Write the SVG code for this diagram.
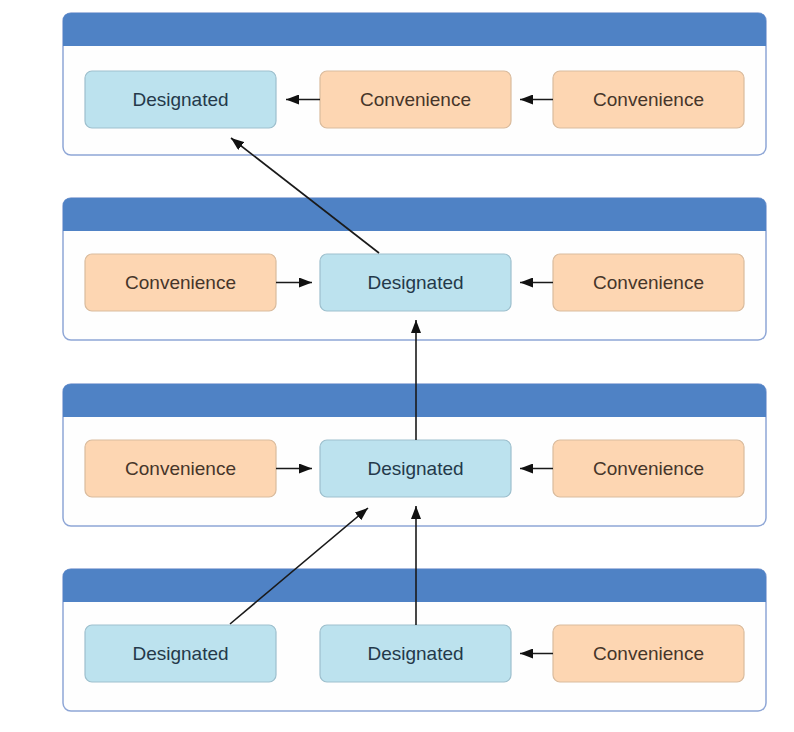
<svg xmlns="http://www.w3.org/2000/svg" width="794" height="732" viewBox="0 0 794 732">
<style>
.panel{fill:#fefefe;stroke:#8ea6d6;stroke-width:1.5}
.hdr{fill:#4f82c5}
.des rect{fill:#bce2ee;stroke:#9dbfcd;stroke-width:1.2}
.con rect{fill:#fdd6b2;stroke:#d9bb9d;stroke-width:1.2}
text{font-family:"Liberation Sans",Arial,sans-serif;font-size:19px;text-anchor:middle;dominant-baseline:central}
.des text{fill:#24394a}
.con text{fill:#46352a}
.conn line{stroke:#1a1a1a;stroke-width:1.6;marker-end:url(#ah)}
</style>
<defs>
<marker id="ah" markerWidth="13" markerHeight="10" refX="13" refY="5" orient="auto" markerUnits="userSpaceOnUse">
<path d="M0,0 L13,5 L0,10 Z" fill="#111"/>
</marker>
</defs>
<rect width="794" height="732" fill="#ffffff"/>
<g id="panel1">
<rect class="panel" x="63" y="13" width="703" height="142" rx="8"/>
<path class="hdr" d="M71,13 H758 Q766,13 766,21 V46 H63 V21 Q63,13 71,13 Z"/>
</g>
<g id="panel2">
<rect class="panel" x="63" y="198" width="703" height="142" rx="8"/>
<path class="hdr" d="M71,198 H758 Q766,198 766,206 V231 H63 V206 Q63,198 71,198 Z"/>
</g>
<g id="panel3">
<rect class="panel" x="63" y="384" width="703" height="142" rx="8"/>
<path class="hdr" d="M71,384 H758 Q766,384 766,392 V417 H63 V392 Q63,384 71,384 Z"/>
</g>
<g id="panel4">
<rect class="panel" x="63" y="569" width="703" height="142" rx="8"/>
<path class="hdr" d="M71,569 H758 Q766,569 766,577 V602 H63 V577 Q63,569 71,569 Z"/>
</g>
<g id="n1a" class="des"><rect x="85" y="71" width="191" height="57" rx="7"/><text x="180.5" y="99.5">Designated</text></g>
<g id="n1b" class="con"><rect x="320" y="71" width="191" height="57" rx="7"/><text x="415.5" y="99.5">Convenience</text></g>
<g id="n1c" class="con"><rect x="553" y="71" width="191" height="57" rx="7"/><text x="648.5" y="99.5">Convenience</text></g>
<g id="n2a" class="con"><rect x="85" y="254" width="191" height="57" rx="7"/><text x="180.5" y="282.5">Convenience</text></g>
<g id="n2b" class="des"><rect x="320" y="254" width="191" height="57" rx="7"/><text x="415.5" y="282.5">Designated</text></g>
<g id="n2c" class="con"><rect x="553" y="254" width="191" height="57" rx="7"/><text x="648.5" y="282.5">Convenience</text></g>
<g id="n3a" class="con"><rect x="85" y="440" width="191" height="57" rx="7"/><text x="180.5" y="468.5">Convenience</text></g>
<g id="n3b" class="des"><rect x="320" y="440" width="191" height="57" rx="7"/><text x="415.5" y="468.5">Designated</text></g>
<g id="n3c" class="con"><rect x="553" y="440" width="191" height="57" rx="7"/><text x="648.5" y="468.5">Convenience</text></g>
<g id="n4a" class="des"><rect x="85" y="625" width="191" height="57" rx="7"/><text x="180.5" y="653.5">Designated</text></g>
<g id="n4b" class="des"><rect x="320" y="625" width="191" height="57" rx="7"/><text x="415.5" y="653.5">Designated</text></g>
<g id="n4c" class="con"><rect x="553" y="625" width="191" height="57" rx="7"/><text x="648.5" y="653.5">Convenience</text></g>
<g id="connectors" class="conn">
<line x1="320" y1="99.5" x2="286" y2="99.5"/>
<line x1="553" y1="99.5" x2="520" y2="99.5"/>
<line x1="379" y1="253" x2="231" y2="138"/>
<line x1="276" y1="282.5" x2="312" y2="282.5"/>
<line x1="553" y1="282.5" x2="520" y2="282.5"/>
<line x1="416" y1="440" x2="416" y2="320"/>
<line x1="276" y1="468.5" x2="312" y2="468.5"/>
<line x1="553" y1="468.5" x2="520" y2="468.5"/>
<line x1="230" y1="624" x2="368" y2="508"/>
<line x1="416" y1="625" x2="416" y2="506"/>
<line x1="553" y1="653.5" x2="520" y2="653.5"/>
</g>
</svg>
